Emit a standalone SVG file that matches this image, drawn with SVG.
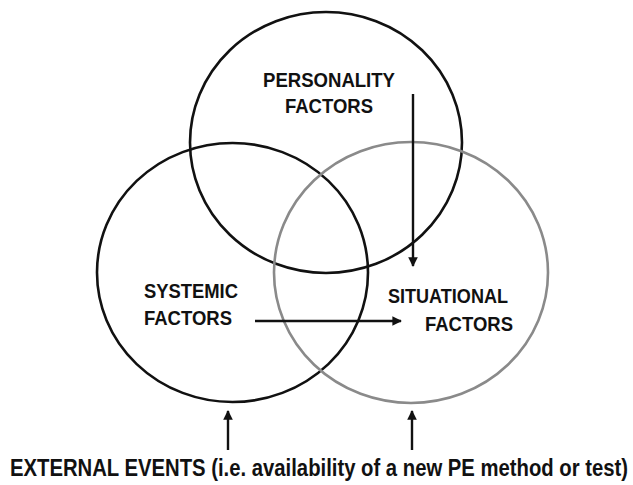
<svg xmlns="http://www.w3.org/2000/svg" width="633" height="485" viewBox="0 0 633 485">
<style>
.c{fill:none;stroke-width:2.6}
.t{font-family:"Liberation Sans",Arial,sans-serif;font-weight:bold;font-size:21px;fill:#111}
.b{font-family:"Liberation Sans",Arial,sans-serif;font-weight:bold;font-size:18px;fill:#111}
.a{stroke:#111;stroke-width:2.4;fill:none;marker-end:url(#ah)}
</style>
<defs>
<marker id="ah" viewBox="0 0 10 10" refX="9" refY="5" markerWidth="4" markerHeight="4" markerUnits="strokeWidth" orient="auto">
<path d="M0,0 L10,5 L0,10 z" fill="#111"/>
</marker>
</defs>
<rect width="633" height="485" fill="#fff"/>
<g id="personality">
<ellipse class="c" cx="326" cy="142.5" rx="136" ry="130.5" stroke="#111"/>
<text class="t" x="263" y="87" textLength="132" lengthAdjust="spacingAndGlyphs">PERSONALITY</text>
<text class="t" x="285" y="113" textLength="88" lengthAdjust="spacingAndGlyphs">FACTORS</text>
</g>
<g id="systemic">
<ellipse class="c" cx="232.5" cy="272.5" rx="135.5" ry="129.5" stroke="#111"/>
<text class="t" x="144" y="298" textLength="94" lengthAdjust="spacingAndGlyphs">SYSTEMIC</text>
<text class="t" x="144" y="325" textLength="88" lengthAdjust="spacingAndGlyphs">FACTORS</text>
</g>
<g id="situational">
<ellipse class="c" cx="411" cy="272.5" rx="137" ry="130.5" stroke="#8a8a8a"/>
<text class="t" x="388" y="303" textLength="120" lengthAdjust="spacingAndGlyphs">SITUATIONAL</text>
<text class="t" x="425" y="331" textLength="88" lengthAdjust="spacingAndGlyphs">FACTORS</text>
</g>
<g id="external">
<text class="b" transform="translate(10,476) scale(1,1.28)" x="0" y="0" textLength="618" lengthAdjust="spacingAndGlyphs">EXTERNAL EVENTS (i.e. availability of a new PE method or test)</text>
</g>
<g id="connectors">
<line class="a" x1="413" y1="94" x2="413" y2="266"/>
<line class="a" x1="255" y1="321" x2="401" y2="321"/>
<line class="a" x1="228" y1="450" x2="228" y2="411"/>
<line class="a" x1="412" y1="450" x2="412" y2="411"/>
</g>
</svg>
